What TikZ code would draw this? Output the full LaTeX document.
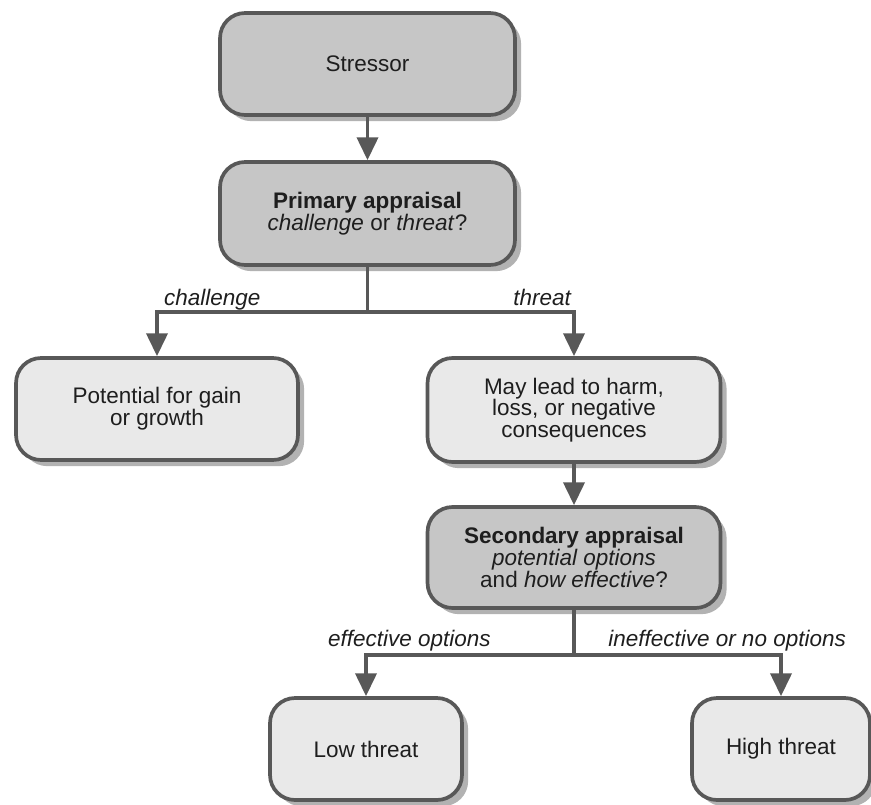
\documentclass[tikz,border=0pt]{standalone}
\usepackage{fontspec}
\setmainfont{Liberation Sans}
\usetikzlibrary{arrows.meta,shadows}
\definecolor{boxDark}{HTML}{C6C6C6}
\definecolor{boxLight}{HTML}{E9E9E9}
\definecolor{edgeGrey}{HTML}{585858}
\definecolor{inkGrey}{HTML}{1E1E1E}

\begin{document}
\begin{tikzpicture}[x=0.02cm, y=-0.02cm,
  font=\fontsize{12.8}{12.4}\selectfont, text=inkGrey,
  stagebox/.style={draw=edgeGrey, line width=2.1pt, rounded corners=0.5cm,
    align=center, inner sep=4pt,
    drop shadow={shadow xshift=3.5pt, shadow yshift=-3.5pt, opacity=0.3, fill=black}},
  appraisal/.style={stagebox, fill=boxDark},
  outcome/.style={stagebox, fill=boxLight},
  flow/.style={draw=edgeGrey, line width=2pt, -{Triangle[length=13pt,width=12pt]}},
  branch/.style={font=\fontsize{12.8}{12.4}\selectfont\itshape}]
  \useasboundingbox (0,0) rectangle (871,804);

  % appraisal stages (dark) and their outcomes (light)
  \node[appraisal, minimum width=5.9cm, minimum height=2.04cm] (stressor) at (367.5,64) {Stressor};
  \node[appraisal, minimum width=5.9cm, minimum height=2.06cm] (primary) at (367.5,213.5)
    {\textbf{Primary appraisal}\\\textit{challenge} or \textit{threat}?};
  \node[outcome, minimum width=5.64cm, minimum height=2.04cm] (gain) at (157,409)
    {Potential for gain\\or growth};
  \node[outcome, minimum width=5.86cm, minimum height=2.08cm] (harm) at (574,410)
    {May lead to harm,\\loss, or negative\\consequences};
  \node[appraisal, minimum width=5.86cm, minimum height=2.02cm] (secondary) at (574,557.5)
    {\textbf{Secondary appraisal}\\\textit{potential options}\\and \textit{how effective}?};
  \node[outcome, minimum width=3.84cm, minimum height=2.04cm] (low) at (366,749) {Low threat};
  \node[outcome, minimum width=3.56cm, minimum height=2.04cm] (high) at (781,749) {High threat};

  % straight steps
  \draw[flow] (stressor) -- (primary);
  \draw[flow] (harm) -- (secondary);

  % first fork: challenge / threat
  \coordinate (split1) at (367.5,312);
  \draw[edgeGrey, line width=2pt] (primary) -- (split1);
  \draw[flow] (split1) -| (gain);
  \draw[flow] (split1) -| (harm);
  \node[branch, anchor=base west] (lblChallenge) at (158,305) {challenge};
  \node[branch, anchor=base east] (lblThreat) at (577,305) {threat};

  % second fork: effective / ineffective options
  \coordinate (split2) at (574,655);
  \draw[edgeGrey, line width=2pt] (secondary) -- (split2);
  \draw[flow] (split2) -| (low);
  \draw[flow] (split2) -| (high);
  \node[branch, anchor=base west] (lblEffective) at (322,646) {effective options};
  \node[branch, anchor=base east] (lblIneffective) at (852,646) {ineffective or no options};
\end{tikzpicture}
\end{document}
